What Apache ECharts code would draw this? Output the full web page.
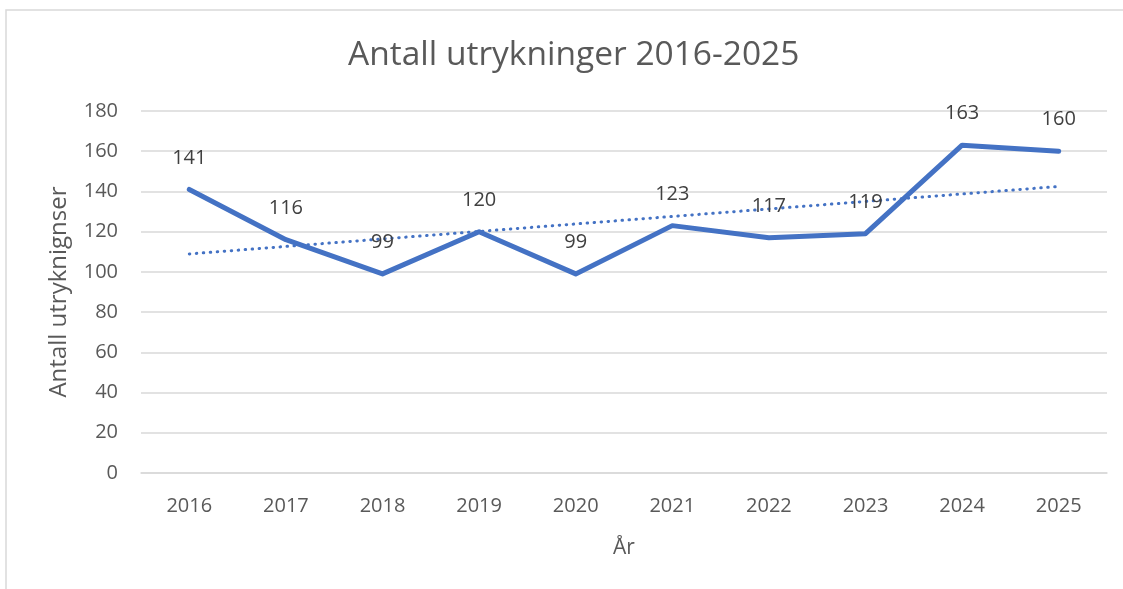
<!DOCTYPE html>
<html>
<head>
<meta charset="utf-8">
<script src="https://cdn.jsdelivr.net/npm/echarts@6/dist/echarts.min.js"></script>
<style>
  html, body { margin: 0; padding: 0; background: #ffffff; }
  #chart { width: 1123px; height: 589px; }
</style>
</head>
<body>
<div id="chart"></div>
<script>
// Årlige utrykninger
const years = ['2016', '2017', '2018', '2019', '2020', '2021', '2022', '2023', '2024', '2025'];
const callouts = [141, 116, 99, 120, 99, 123, 117, 119, 163, 160];
const yTicks = { min: 0, max: 180, step: 20 };

// Lineær trendlinje (minste kvadraters metode) over årsverdiene
function linearTrend(values) {
  const n = values.length;
  let sx = 0, sy = 0, sxy = 0, sxx = 0;
  values.forEach((v, i) => {
    const x = i + 1;
    sx += x; sy += v; sxy += x * v; sxx += x * x;
  });
  const slope = (n * sxy - sx * sy) / (n * sxx - sx * sx);
  const intercept = (sy - slope * sx) / n;
  return values.map((_, i) => +(intercept + slope * (i + 1)).toFixed(3));
}
const trend = linearTrend(callouts);

const FONT = '"Open Sans", "Noto Sans", sans-serif';
const BLUE = '#4472C4';
const TEXT = '#595959';

const chart = echarts.init(document.getElementById('chart'), null, { renderer: 'canvas' });
chart.setOption({
  animation: false,
  backgroundColor: '#ffffff',
  textStyle: { fontFamily: FONT },
  graphic: [{
    type: 'rect',
    silent: true,
    shape: { x: 6, y: 10, width: 1300, height: 700 },
    style: { fill: 'none', stroke: '#d9d9d9', lineWidth: 1.5 }
  }],
  title: {
    text: 'Antall utrykninger 2016-2025',
    left: 343,
    top: 33,
    textStyle: { fontFamily: FONT, fontSize: 33.5, fontWeight: 'normal', color: TEXT }
  },
  grid: { left: 141, right: 16, top: 111, bottom: 116, containLabel: false },
  xAxis: {
    type: 'category',
    data: years,
    boundaryGap: true,
    name: 'År',
    nameLocation: 'middle',
    nameGap: 65,
    nameTextStyle: { fontFamily: FONT, fontSize: 21, color: TEXT },
    axisLine: { show: true, lineStyle: { color: '#d9d9d9', width: 1.5 } },
    axisTick: { show: false },
    axisLabel: { fontFamily: FONT, fontSize: 20, color: TEXT, margin: 23 }
  },
  yAxis: {
    type: 'value',
    min: yTicks.min,
    max: yTicks.max,
    interval: yTicks.step,
    name: 'Antall utryknignser',
    nameLocation: 'middle',
    nameGap: 70,
    nameTextStyle: { fontFamily: FONT, fontSize: 24, color: TEXT },
    axisLine: { show: false },
    axisTick: { show: false },
    axisLabel: { fontFamily: FONT, fontSize: 20, color: TEXT, margin: 23 },
    splitLine: { lineStyle: { color: '#d9d9d9', width: 1.5 } }
  },
  series: [
    {
      name: 'Trend',
      type: 'line',
      data: trend,
      symbol: 'none',
      silent: true,
      z: 2,
      lineStyle: { color: BLUE, width: 3, type: [0.5, 6.5], cap: 'round' }
    },
    {
      name: 'Utrykninger',
      type: 'line',
      data: callouts,
      symbol: 'circle',
      symbolSize: 1,
      itemStyle: { color: BLUE },
      z: 3,
      lineStyle: { color: BLUE, width: 5, cap: 'round', join: 'round' },
      label: {
        show: true,
        position: 'top',
        distance: 21,
        fontFamily: FONT,
        fontSize: 20,
        color: '#404040'
      }
    }
  ]
});
</script>
</body>
</html>
